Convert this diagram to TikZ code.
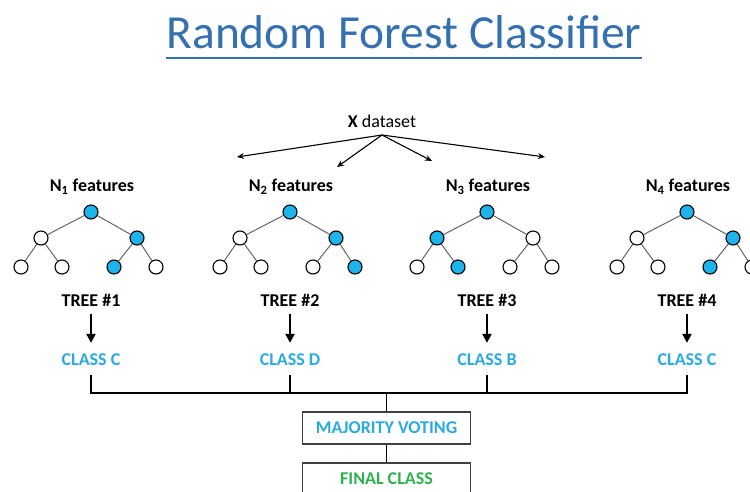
\documentclass[tikz,border=0pt]{standalone}
\usepackage{fontspec}
\setmainfont{Carlito}
\usetikzlibrary{arrows.meta}
\definecolor{titleblue}{HTML}{3570B0}
\definecolor{dotblue}{HTML}{1DB4EC}
\definecolor{classblue}{HTML}{2AAAE0}
\definecolor{finalgreen}{HTML}{2DB24E}
\begin{document}
\begin{tikzpicture}[
    x=1pt, y=-1pt,
    font=\fontsize{18}{21}\selectfont\bfseries,
    dot/.style={circle, draw, line width=1.1pt, minimum size=14pt, inner sep=0pt},
    edge/.style={gray!80!black, line width=1pt},
    lab/.style={inner sep=0pt},
    cls/.style={lab, text=classblue},
    split/.style={-{Stealth[length=7pt,width=6pt]}, line width=1.1pt},
    down/.style={-{Triangle[length=9pt,width=9pt]}, line width=2.2pt},
    wire/.style={line width=1.6pt},
    panel/.style={draw=black!75, line width=1.3pt, minimum width=168pt, minimum height=32pt, inner sep=0pt}
  ]
  \clip (0,0) rectangle (750,491);
  \node[lab, font=\fontsize{47.5}{52}\selectfont, text=titleblue, anchor=base] (title) at (404,48) {Random Forest Classifier};
  \draw[titleblue, line width=1.8pt] (title.base west) ++(0,10) coordinate (ul) -- (ul -| title.base east);
  \node[lab, font=\fontsize{18}{21}\selectfont] (data) at (382,121) {\textbf{X} dataset};
  \coordinate (fork) at (382,135);
  \foreach \i/\x/\y in {1/237/157,2/337/167,3/432/161,4/545/157}
    \coordinate (a\i) at (\x,\y);
  \foreach \i in {1,...,4}
    \draw[split] (fork) -- (a\i);
  % trees
  \foreach \i/\r/\c/\fl/\fr/\fa/\fb/\fc/\fd in {
      1/91/C/white/dotblue/white/white/dotblue/white,
      2/290/D/white/dotblue/white/white/white/dotblue,
      3/487/B/dotblue/white/white/dotblue/white/white,
      4/687/C/white/dotblue/white/white/dotblue/white} {
    \node[lab] (n\i) at (\r+1,187) {N\textsubscript{\i} features};
    \node[dot, fill=dotblue] (t\i) at (\r,212) {};
    \node[dot, fill=\fl] (t\i l) at (\r-50,238) {};
    \node[dot, fill=\fr] (t\i r) at (\r+46,238) {};
    \node[dot, fill=\fa] (t\i ll) at (\r-70,267) {};
    \node[dot, fill=\fb] (t\i lr) at (\r-29,267) {};
    \node[dot, fill=\fc] (t\i rl) at (\r+23,267) {};
    \node[dot, fill=\fd] (t\i rr) at (\r+65,267) {};
    \draw[edge] (t\i) -- (t\i l) (t\i) -- (t\i r);
    \draw[edge] (t\i l) -- (t\i ll) (t\i l) -- (t\i lr);
    \draw[edge] (t\i r) -- (t\i rl) (t\i r) -- (t\i rr);
    \node[lab] (tree\i) at (\r,300) {TREE \#\i};
    \node[cls] (c\i) at (\r,360) {CLASS \c};
    \draw[down, shorten <=8pt, shorten >=11pt] (tree\i.south) -- (c\i.north);
  }
  % voting
  \coordinate (bus) at (386.5,393);
  \node[panel, text=classblue] (vote) at (386.5,428) {MAJORITY VOTING};
  \node[panel, text=finalgreen] (final) at (386.5,479) {FINAL CLASS};
  \draw[wire, shorten <=9pt, shorten >=9pt] (c1.south) |- (bus) -| (c4.south);
  \draw[wire, shorten <=9pt] (c2.south) -- (c2.south |- bus);
  \draw[wire, shorten <=9pt] (c3.south) -- (c3.south |- bus);
  \draw[wire] (bus) -- (vote.north);
  \draw[wire] (vote.south) -- (final.north);
\end{tikzpicture}
\end{document}
